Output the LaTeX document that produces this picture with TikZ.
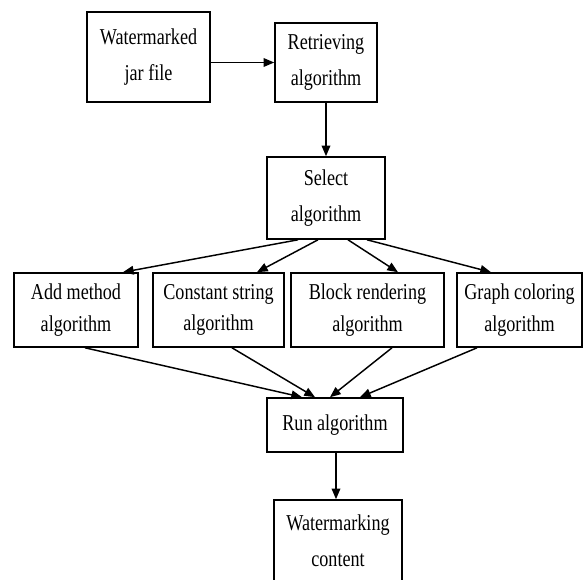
\documentclass[tikz,border=0pt]{standalone}
\usepackage{fontspec}
\setmainfont{Liberation Serif}[FakeStretch=0.8]
\usetikzlibrary{arrows.meta,calc}
\begin{document}
\begin{tikzpicture}[x=0.75pt,y=-0.75pt,
  box/.style={draw,line width=1.2pt,align=center,inner sep=0pt,
    font=\fontsize{17}{27}\selectfont},
  tight/.style={font=\fontsize{17}{23.5}\selectfont},
  arr/.style={line width=1.1pt,-{Triangle[length=8pt,width=6.5pt]}}]
\clip (0,0) rectangle (584,580);
\node[box,minimum width=92.25pt,minimum height=67.5pt] (wm)  at (148.5,57)  {Watermarked\\jar file};
\node[box,minimum width=76.5pt,minimum height=59.25pt] (ret) at (326,62.5)  {Retrieving\\algorithm};
\node[box,minimum width=88.5pt,minimum height=61.5pt]  (sel) at (326,198)   {Select\\algorithm};
\node[box,tight,minimum width=93pt,minimum height=55.5pt]    (add) at (76,310)    {Add method\\algorithm};
\node[box,tight,minimum width=98.25pt,minimum height=55.5pt] (con) at (218.5,310) {Constant string\\algorithm};
\node[box,tight,minimum width=114.75pt,minimum height=55.5pt](blk) at (367.5,310) {Block rendering\\algorithm};
\node[box,tight,minimum width=93.75pt,minimum height=55.5pt] (gra) at (519.5,310) {Graph coloring\\algorithm};
\node[box,minimum width=102pt,minimum height=40.5pt]   (run) at (335,425)   {Run algorithm};
\node[box,minimum width=96pt,minimum height=61.5pt]    (wmc) at (338,541)   {Watermarking\\content};

\draw[arr] (wm.east |- ret.west) -- (ret.west);
\draw[arr] (ret.south) -- (sel.north);

\draw[arr] ($(sel.south)+(-28,0)$) -- ($(add.north)+(47,0)$);
\draw[arr] ($(sel.south)+(-8,0)$)  -- ($(con.north)+(38.5,0)$);
\draw[arr] ($(sel.south)+(22,0)$)  -- ($(blk.north)+(30.5,0)$);
\draw[arr] ($(sel.south)+(41,0)$)  -- ($(gra.north)+(-28.5,0)$);

\draw[arr] ($(add.south)+(9,0)$)     -- ($(run.north)+(-33,0)$);
\draw[arr] ($(con.south)+(13.5,0)$)  -- ($(run.north)+(-20,0)$);
\draw[arr] ($(blk.south)+(24.5,0)$)  -- ($(run.north)+(-5,0)$);
\draw[arr] ($(gra.south)+(-42.5,0)$) -- ($(run.north)+(25,0)$);

\coordinate (rs) at ($(run.south)+(1,0)$);
\draw[arr] (rs) -- (rs |- wmc.north);
\end{tikzpicture}
\end{document}
